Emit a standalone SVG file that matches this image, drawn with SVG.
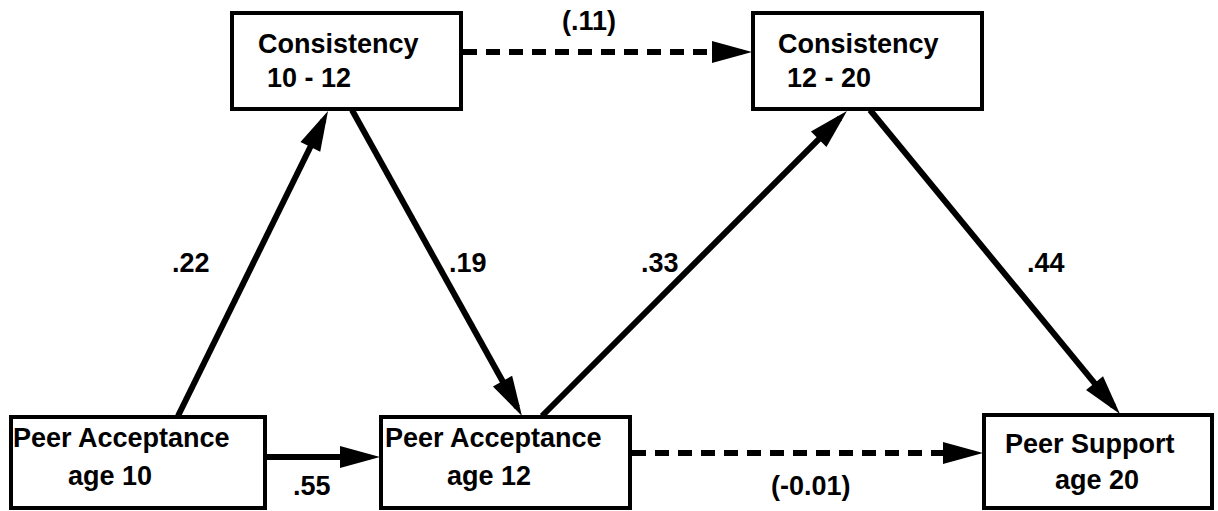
<svg xmlns="http://www.w3.org/2000/svg" width="1218" height="511" viewBox="0 0 1218 511">
<style>
.box{fill:#fff;stroke:#000;stroke-width:4}
.t{font-family:"Liberation Sans",Arial,Helvetica,sans-serif;font-weight:bold;font-size:27px;fill:#000}
.c{fill:none;stroke:#000;stroke-width:6;marker-end:url(#ah)}
.d{stroke-dasharray:14 9}
</style>
<defs>
<marker id="ah" markerUnits="userSpaceOnUse" markerWidth="40" markerHeight="22" refX="30" refY="11" orient="auto" overflow="visible">
<path d="M0,0 L40,11 L0,22 z" fill="#000"/>
</marker>
</defs>
<rect width="1218" height="511" fill="#fff"/>
<g id="connectors">
<path class="c" d="M178,416 L323.6,120.0"/>
<path class="c" d="M352,110 L517.1,407.3"/>
<path class="c" d="M542,416 L839.9,118.1"/>
<path class="c" d="M870,110 L1113.6,406.3"/>
<path class="c" d="M266,457 L370,457"/>
<path class="c d" d="M463,52 L742,52"/>
<path class="c d" d="M632,453 L973,453"/>
<text class="t" x="172" y="272">.22</text>
<text class="t" x="449" y="272">.19</text>
<text class="t" x="641" y="272">.33</text>
<text class="t" x="1027" y="272">.44</text>
<text class="t" x="293" y="495">.55</text>
<text class="t" x="562" y="30">(.11)</text>
<text class="t" x="771" y="495">(-0.01)</text>
</g>
<g id="cons1012">
<rect class="box" x="232" y="13" width="229" height="96"/>
<text class="t" x="258" y="53">Consistency</text>
<text class="t" x="267" y="87">10 - 12</text>
</g>
<g id="cons1220">
<rect class="box" x="753" y="13" width="229" height="96"/>
<text class="t" x="778" y="53">Consistency</text>
<text class="t" x="787" y="87">12 - 20</text>
</g>
<g id="pa10">
<rect class="box" x="11" y="417" width="254" height="91"/>
<text class="t" x="13" y="447">Peer Acceptance</text>
<text class="t" x="68" y="485">age 10</text>
</g>
<g id="pa12">
<rect class="box" x="381" y="417" width="249" height="91"/>
<text class="t" x="385" y="447">Peer Acceptance</text>
<text class="t" x="447" y="485">age 12</text>
</g>
<g id="ps20">
<rect class="box" x="984" y="415" width="228" height="93"/>
<text class="t" x="1005" y="453">Peer Support</text>
<text class="t" x="1055" y="489">age 20</text>
</g>
</svg>
